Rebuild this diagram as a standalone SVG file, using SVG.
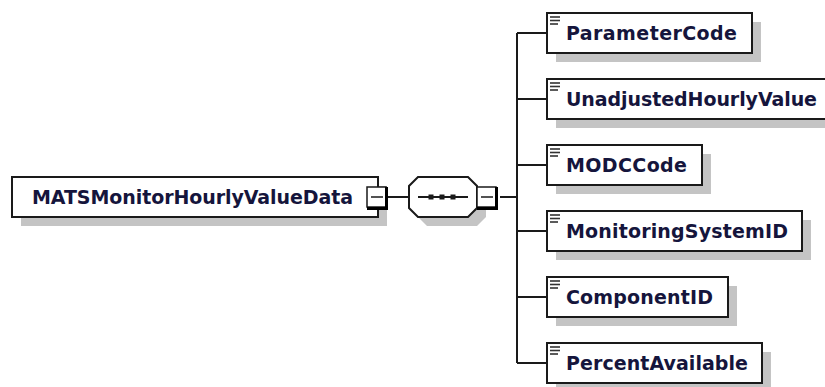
<svg xmlns="http://www.w3.org/2000/svg" width="825" height="387" viewBox="0 0 825 387">
<style>
.bg{fill:#ffffff}
.shadow{fill:#c4c4c4;stroke:none}
.box{fill:#ffffff;stroke:#1a1a1a;stroke-width:2}
.lbl{font-family:"DejaVu Sans","Liberation Sans",sans-serif;font-weight:bold;font-size:19px;fill:#15153c}
.conn{fill:none;stroke:#1a1a1a;stroke-width:2}
.btn{fill:#ffffff;stroke:#1a1a1a;stroke-width:1.5}
.btnedge{fill:none;stroke:#000000;stroke-width:3}
.minus{stroke:#1a1a1a;stroke-width:1.5}
.icon{stroke:#333333;stroke-width:1.6}
</style>
<defs>
<g id="elemIcon">
<line class="icon" x1="3" y1="4" x2="13" y2="4"/>
<line class="icon" x1="3" y1="7.5" x2="13" y2="7.5"/>
<line class="icon" x1="3" y1="11" x2="11" y2="11"/>
</g>
<g id="minusBtn">
<rect class="btn" x="0" y="0" width="19" height="20"/>
<polyline class="btnedge" points="19.5,0 19.5,21.5 0,21.5"/>
<line class="minus" x1="4" y1="10" x2="16" y2="10"/>
</g>
</defs>
<rect class="bg" x="0" y="0" width="825" height="387"/>

<g id="connectors">
<line class="conn" x1="388" y1="197" x2="409" y2="197"/>
<line class="conn" x1="500" y1="197" x2="517" y2="197"/>
<line class="conn" x1="517" y1="33" x2="517" y2="363"/>
<line class="conn" x1="517" y1="33" x2="547" y2="33"/>
<line class="conn" x1="517" y1="99" x2="547" y2="99"/>
<line class="conn" x1="517" y1="165" x2="547" y2="165"/>
<line class="conn" x1="517" y1="231" x2="547" y2="231"/>
<line class="conn" x1="517" y1="297" x2="547" y2="297"/>
<line class="conn" x1="517" y1="363" x2="547" y2="363"/>
</g>

<g id="node-MATSMonitorHourlyValueData">
<rect class="shadow" x="21" y="186" width="366" height="40"/>
<rect class="box" x="12" y="177" width="366" height="40"/>
<text class="lbl" x="32" y="204" textLength="321" lengthAdjust="spacing">MATSMonitorHourlyValueData</text>
<use href="#minusBtn" x="367" y="187"/>
</g>

<g id="node-sequence">
<polygon class="shadow" points="427,186 477,186 486,195 486,217 477,226 427,226 418,217 418,195"/>
<polygon class="box" points="418,177 468,177 477,186 477,208 468,217 418,217 409,208 409,186"/>
<line class="conn" x1="418" y1="197" x2="468" y2="197"/>
<rect x="428.5" y="194.5" width="5" height="5" fill="#1a1a1a"/>
<rect x="439.5" y="194.5" width="5" height="5" fill="#1a1a1a"/>
<rect x="450.5" y="194.5" width="5" height="5" fill="#1a1a1a"/>
<use href="#minusBtn" x="477" y="187"/>
</g>

<g id="node-ParameterCode">
<rect class="shadow" x="556" y="22" width="205" height="40"/>
<rect class="box" x="547" y="13" width="205" height="40"/>
<use href="#elemIcon" x="547" y="13"/>
<text class="lbl" x="566" y="40" textLength="171" lengthAdjust="spacing">ParameterCode</text>
</g>

<g id="node-UnadjustedHourlyValue">
<rect class="shadow" x="556" y="88" width="290" height="40"/>
<rect class="box" x="547" y="79" width="290" height="40"/>
<use href="#elemIcon" x="547" y="79"/>
<text class="lbl" x="566" y="106" textLength="251" lengthAdjust="spacing">UnadjustedHourlyValue</text>
</g>

<g id="node-MODCCode">
<rect class="shadow" x="556" y="154" width="155" height="40"/>
<rect class="box" x="547" y="145" width="155" height="40"/>
<use href="#elemIcon" x="547" y="145"/>
<text class="lbl" x="566" y="172" textLength="121" lengthAdjust="spacing">MODCCode</text>
</g>

<g id="node-MonitoringSystemID">
<rect class="shadow" x="556" y="220" width="255" height="40"/>
<rect class="box" x="547" y="211" width="255" height="40"/>
<use href="#elemIcon" x="547" y="211"/>
<text class="lbl" x="566" y="238" textLength="222" lengthAdjust="spacing">MonitoringSystemID</text>
</g>

<g id="node-ComponentID">
<rect class="shadow" x="556" y="286" width="181" height="40"/>
<rect class="box" x="547" y="277" width="181" height="40"/>
<use href="#elemIcon" x="547" y="277"/>
<text class="lbl" x="566" y="304" textLength="147" lengthAdjust="spacing">ComponentID</text>
</g>

<g id="node-PercentAvailable">
<rect class="shadow" x="556" y="352" width="215" height="40"/>
<rect class="box" x="547" y="343" width="215" height="40"/>
<use href="#elemIcon" x="547" y="343"/>
<text class="lbl" x="566" y="370" textLength="182" lengthAdjust="spacing">PercentAvailable</text>
</g>
</svg>
